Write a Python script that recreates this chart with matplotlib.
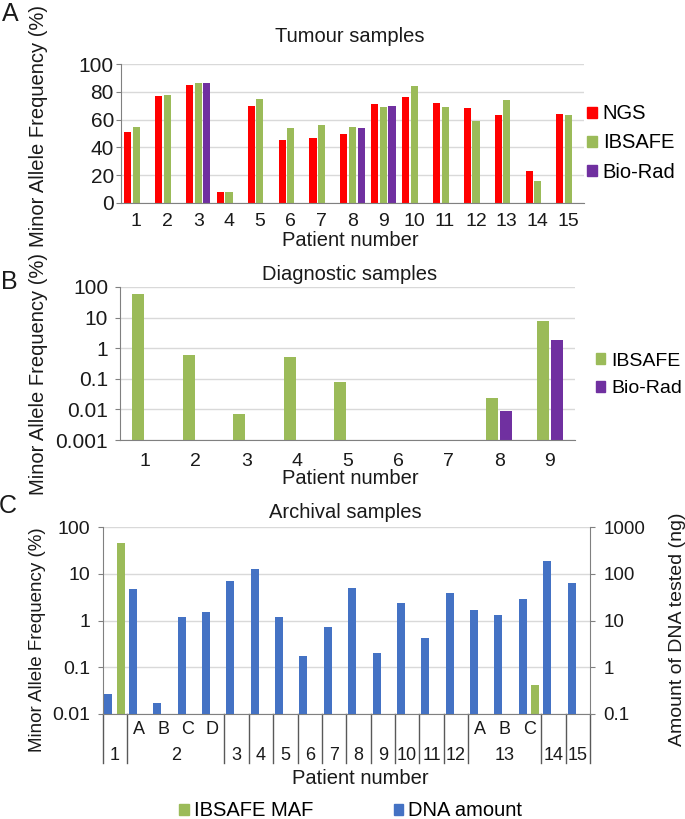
import numpy as np
import matplotlib
matplotlib.use('Agg')
import matplotlib.pyplot as plt
import matplotlib.transforms as mtransforms
from matplotlib.patches import Patch
from matplotlib.ticker import FixedLocator, FixedFormatter, NullLocator

plt.rcParams['font.family'] = ['Liberation Sans', 'DejaVu Sans']

nan = np.nan

# ---------------- data ----------------
# Panel A: tumour samples (MAF %)
patients_a = [str(i) for i in range(1, 16)]
ngs_a = [51, 77, 85, 8, 70, 45, 47, 50, 71, 76, 72, 68, 63, 23, 64]
ibsafe_a = [55, 78, 86, 8, 75, 54, 56, 55, 69, 84, 69, 59, 74, 16, 63]
biorad_a = [nan, nan, 86, nan, nan, nan, nan, 54, 70, nan, nan, nan, nan, nan, nan]

# Panel B: diagnostic samples (MAF %, log)
patients_b = [str(i) for i in range(1, 10)]
ibsafe_b = [57.5, 0.6, 0.0069, 0.53, 0.08, nan, nan, 0.023, 7.8]
biorad_b = [nan, nan, nan, nan, nan, nan, nan, 0.0091, 1.8]

# Panel C: archival samples
sub_c = ['', 'A', 'B', 'C', 'D', '', '', '', '', '', '', '', '', '', '',
         'A', 'B', 'C', '', '']
group_c = ['1', '2', '2', '2', '2', '3', '4', '5', '6', '7', '8', '9', '10',
           '11', '12', '13', '13', '13', '14', '15']
dna_c = [0.27, 48, 0.17, 11.6, 15.4, 70.5, 125, 11.8, 1.74, 7.2, 50, 2.05,
         24, 4.2, 39, 16.7, 13, 29, 185, 63]
maf_c = [46.6, nan, nan, nan, nan, nan, nan, nan, nan, nan, nan, nan, nan,
         nan, nan, nan, nan, 0.042, nan, nan]

# ---------------- style ----------------
RED = '#FF0000'
GREEN = '#9BBB59'
PURPLE = '#7030A0'
BLUE = '#4472C4'
GRID = '#D9D9D9'
AXC = '#808080'
TXT = '#1a1a1a'

W, H = 685, 819
fig = plt.figure(figsize=(W / 100, H / 100), dpi=100)


def rect(l, r, t, b):
    return [l / W, 1 - b / H, (r - l) / W, (b - t) / H]


def fx(x):
    return x / W


def fy(y):
    return 1 - y / H


def style_axes(ax, pad, ysize=15, xsize=14):
    ax.spines['top'].set_visible(False)
    ax.spines['right'].set_visible(False)
    ax.spines['left'].set_color(AXC)
    ax.spines['bottom'].set_color(AXC)
    ax.yaxis.grid(True, color=GRID, lw=1)
    ax.set_axisbelow(True)
    ax.tick_params(axis='y', length=3.6, color=AXC, labelsize=ysize,
                   labelcolor=TXT, pad=pad)
    ax.tick_params(axis='x', length=0, labelsize=xsize, labelcolor=TXT)
    ax.yaxis.set_minor_locator(NullLocator())


def bars(ax, x, vals, off, width, color, bottom=0.0):
    v = np.asarray(vals, dtype=float)
    m = ~np.isnan(v)
    xs = np.asarray(x, dtype=float)[m] + off
    ax.bar(xs, v[m] - bottom, width=width, bottom=bottom, color=color,
           linewidth=0)


# ---------------- Panel A ----------------
axA = fig.add_axes(rect(121, 584, 64, 203))
xa = np.arange(1, len(patients_a) + 1)
bars(axA, xa, ngs_a, -0.28, 0.23, RED)
bars(axA, xa, ibsafe_a, 0.0, 0.23, GREEN)
bars(axA, xa, biorad_a, 0.28, 0.23, PURPLE)
axA.set_xlim(0.5, len(patients_a) + 0.5)
axA.set_ylim(0, 100)
axA.set_yticks([0, 20, 40, 60, 80, 100])
axA.set_xticks(xa)
axA.set_xticklabels(patients_a)
style_axes(axA, 1.5)
axA.tick_params(axis='x', pad=7)
fig.text(fx(350), fy(37), 'Tumour samples', ha='center', va='center',
         fontsize=14.5, color=TXT)
fig.text(fx(350), fy(241), 'Patient number', ha='center', va='center',
         fontsize=14.5, color=TXT)
fig.text(fx(39), fy(126), 'Minor Allele Frequency (%)', rotation=90,
         ha='center', va='center', fontsize=14.5, color=TXT)
fig.text(fx(10), fy(14), 'A', ha='center', va='center', fontsize=18,
         color=TXT)
axA.legend(handles=[Patch(color=RED, label='NGS'),
                    Patch(color=GREEN, label='IBSAFE'),
                    Patch(color=PURPLE, label='Bio-Rad')],
           loc='center left', bbox_to_anchor=(fx(587), fy(143)),
           bbox_transform=fig.transFigure, frameon=False,
           fontsize=14.5, handlelength=0.48, handleheight=0.48,
           handletextpad=0.3, borderpad=0, borderaxespad=0,
           labelspacing=0.5)

# ---------------- Panel B ----------------
axB = fig.add_axes(rect(120, 575, 287, 440))
axB.set_yscale('log')
xb = np.arange(1, len(patients_b) + 1)
yminB = 0.001
bars(axB, xb, ibsafe_b, -0.14, 0.24, GREEN, bottom=yminB)
bars(axB, xb, biorad_b, 0.14, 0.24, PURPLE, bottom=yminB)
axB.set_xlim(0.5, len(patients_b) + 0.5)
axB.set_ylim(yminB, 100)
ticksB = [0.001, 0.01, 0.1, 1, 10, 100]
axB.yaxis.set_major_locator(FixedLocator(ticksB))
axB.yaxis.set_major_formatter(FixedFormatter(['0.001', '0.01', '0.1', '1',
                                              '10', '100']))
axB.set_xticks(xb)
axB.set_xticklabels(patients_b)
style_axes(axB, 5)
axB.yaxis.set_minor_locator(NullLocator())
axB.tick_params(axis='x', pad=9)
fig.text(fx(350), fy(275), 'Diagnostic samples', ha='center', va='center',
         fontsize=14.5, color=TXT)
fig.text(fx(350), fy(479), 'Patient number', ha='center', va='center',
         fontsize=14.5, color=TXT)
fig.text(fx(39), fy(374), 'Minor Allele Frequency (%)', rotation=90,
         ha='center', va='center', fontsize=14.5, color=TXT)
fig.text(fx(9), fy(282), 'B', ha='center', va='center', fontsize=18,
         color=TXT)
axB.legend(handles=[Patch(color=GREEN, label='IBSAFE'),
                    Patch(color=PURPLE, label='Bio-Rad')],
           loc='center left', bbox_to_anchor=(fx(596), fy(375)),
           bbox_transform=fig.transFigure, frameon=False,
           fontsize=14, handlelength=0.48, handleheight=0.48,
           handletextpad=0.3, borderpad=0, borderaxespad=0,
           labelspacing=0.55)

# ---------------- Panel C ----------------
axC = fig.add_axes(rect(102.5, 590, 527, 714))
axC.set_yscale('log')
axC2 = axC.twinx()
axC2.set_yscale('log')
xc = np.arange(1, len(group_c) + 1)
yminC, yminC2 = 0.01, 0.1
bars(axC, xc, maf_c, 0.245, 0.33, GREEN, bottom=yminC)
bars(axC2, xc, dna_c, -0.255, 0.33, BLUE, bottom=yminC2)
for a in (axC, axC2):
    a.set_xlim(0.5, len(group_c) + 0.5)
axC.set_ylim(yminC, 100)
axC2.set_ylim(yminC2, 1000)
axC.yaxis.set_major_locator(FixedLocator([0.01, 0.1, 1, 10, 100]))
axC.yaxis.set_major_formatter(FixedFormatter(['0.01', '0.1', '1', '10',
                                              '100']))
axC2.yaxis.set_major_locator(FixedLocator([0.1, 1, 10, 100, 1000]))
axC2.yaxis.set_major_formatter(FixedFormatter(['0.1', '1', '10', '100',
                                               '1000']))
style_axes(axC, 5, ysize=14)
axC.set_xticks([])
axC2.set_xticks([])
for s in ('top', 'left', 'bottom'):
    axC2.spines[s].set_visible(False)
axC2.spines['right'].set_color(AXC)
axC2.yaxis.set_minor_locator(NullLocator())
axC.yaxis.set_minor_locator(NullLocator())
axC2.tick_params(axis='y', length=3.6, color=AXC, labelsize=13.5,
                 labelcolor=TXT, pad=6)

# multi-level category axis
axh = 714 - 527
trans = mtransforms.blended_transform_factory(axC.transData, axC.transAxes)
line_bottom = -(763 - 714) / axh
bounds = [0.5]
for i in range(1, len(group_c)):
    if group_c[i] != group_c[i - 1]:
        bounds.append(i + 0.5)
bounds.append(len(group_c) + 0.5)
for b in bounds:
    axC.plot([b, b], [0, line_bottom], transform=trans, clip_on=False,
             color='#595959', lw=1)
for xi, s in zip(xc, sub_c):
    if s:
        axC.text(xi, -(729 - 714) / axh, s, transform=trans, ha='center',
                 va='center', fontsize=13, color=TXT)
groups = []
for xi, g in zip(xc, group_c):
    if groups and groups[-1][0] == g:
        groups[-1][1].append(xi)
    else:
        groups.append((g, [xi]))
for g, xs in groups:
    axC.text(np.mean(xs), -(755 - 714) / axh, g, transform=trans,
             ha='center', va='center', fontsize=13, color=TXT)

fig.text(fx(345), fy(512), 'Archival samples', ha='center', va='center',
         fontsize=14.5, color=TXT)
fig.text(fx(360), fy(779), 'Patient number', ha='center', va='center',
         fontsize=14.5, color=TXT)
fig.text(fx(38), fy(640), 'Minor Allele Frequency (%)', rotation=90,
         ha='center', va='center', fontsize=13.5, color=TXT)
fig.text(fx(677), fy(629), 'Amount of DNA tested (ng)', rotation=90,
         ha='center', va='center', fontsize=14, color=TXT)
fig.text(fx(8), fy(506), 'C', ha='center', va='center', fontsize=18,
         color=TXT)
fig.legend(handles=[Patch(color=GREEN, label='IBSAFE MAF'),
                    Patch(color=BLUE, label='DNA amount')],
           loc='center left', bbox_to_anchor=(fx(179), fy(811)),
           bbox_transform=fig.transFigure, frameon=False, ncol=2,
           fontsize=14.5, handlelength=0.48, handleheight=0.48,
           handletextpad=0.25, borderpad=0, borderaxespad=0,
           columnspacing=4.0)

fig.savefig('out.png', dpi=100)
